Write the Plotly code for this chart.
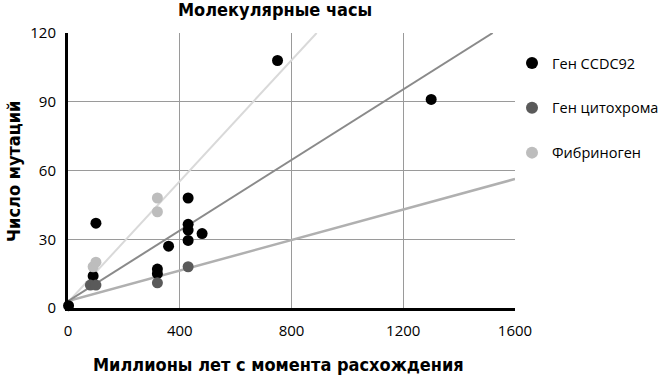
import plotly.graph_objects as go

# --- data ---
ccdc_x = [2, 90, 100, 320, 320, 360, 430, 430, 430, 430, 480, 750, 1300]
ccdc_y = [1, 14, 37, 17, 15, 27, 48, 36.5, 34, 29.5, 32.5, 108, 91]

cyto_x = [80, 100, 320, 430]
cyto_y = [10, 10, 11, 18]

fib_x = [-3, 90, 100, 320, 320]
fib_y = [-0.5, 18, 20, 48, 42]

fit_ccdc_x = [0, 1520]
fit_ccdc_y = [3, 120]
fit_cyto_x = [0, 1600]
fit_cyto_y = [3, 56.3]
fit_fib_x = [0, 890]
fit_fib_y = [2.5, 120]

x_ticks = [0, 400, 800, 1200, 1600]
y_ticks = [0, 30, 60, 90, 120]

names = ["Ген CCDC92", "Ген цитохрома", "Фибриноген"]
title = "Молекулярные часы"
x_title = "Миллионы лет с момента расхождения"
y_title = "Число мутаций"

FONT = "Open Sans"
BOLD = "DejaVu Sans Condensed"

W, H = 664, 378
L, R, T, B = 68, 149, 33, 70
pw, ph = W - L - R, H - T - B


def px(x):
    return (x - L) / pw


def py(y):
    return 1 - (y - T) / ph


fig = go.Figure()

# trend lines
fig.add_trace(go.Scatter(x=fit_fib_x, y=fit_fib_y, mode="lines",
                         line=dict(color="#d9d9d9", width=2), showlegend=False, hoverinfo="skip"))
fig.add_trace(go.Scatter(x=fit_cyto_x, y=fit_cyto_y, mode="lines",
                         line=dict(color="#b0b0b0", width=2.5), showlegend=False, hoverinfo="skip"))
fig.add_trace(go.Scatter(x=fit_ccdc_x, y=fit_ccdc_y, mode="lines",
                         line=dict(color="#8a8a8a", width=2), showlegend=False, hoverinfo="skip"))

# points
fig.add_trace(go.Scatter(x=ccdc_x, y=ccdc_y, mode="markers", name=names[0], legendgroup="a",
                         marker=dict(color="#000000", size=11), cliponaxis=False))
fig.add_trace(go.Scatter(x=cyto_x, y=cyto_y, mode="markers", name=names[1], legendgroup="b",
                         marker=dict(color="#5a5a5a", size=11), cliponaxis=False))
fig.add_trace(go.Scatter(x=fib_x, y=fib_y, mode="markers", name=names[2], legendgroup="c",
                         marker=dict(color="#bdbdbd", size=11), cliponaxis=False))

fig.update_layout(
    width=W, height=H,
    margin=dict(l=L, r=R, t=T, b=B, autoexpand=False),
    paper_bgcolor="white", plot_bgcolor="white",
    font=dict(family=FONT, size=15, color="#000"),
    showlegend=True,
    legend=dict(x=px(512), y=py(47), xanchor="left", yanchor="top",
                font=dict(family=FONT, size=14.5, color="#000"),
                tracegroupgap=23, itemsizing="constant", bgcolor="rgba(0,0,0,0)"),
    annotations=[
        dict(text="<b>" + title + "</b>", x=px(275), y=py(10), xref="paper", yref="paper",
             xanchor="center", yanchor="middle", showarrow=False,
             font=dict(family=BOLD, size=18)),
        dict(text="<b>" + x_title + "</b>", x=px(278), y=py(364), xref="paper", yref="paper",
             xanchor="center", yanchor="middle", showarrow=False,
             font=dict(family=BOLD, size=18)),
        dict(text="<b>" + y_title + "</b>", x=px(13), y=py(172), xref="paper", yref="paper",
             xanchor="center", yanchor="middle", showarrow=False, textangle=-90,
             font=dict(family=BOLD, size=18)),
    ],
)

fig.update_xaxes(range=[0, 1600], tickvals=x_ticks, ticktext=[str(v) for v in x_ticks],
                 showgrid=True, gridcolor="#9a9a9a", gridwidth=1, automargin=False,
                 showline=True, linecolor="#000", linewidth=3, zeroline=False,
                 ticks="", ticklabelstandoff=7)
fig.update_yaxes(range=[0, 120], tickvals=y_ticks, ticktext=[str(v) for v in y_ticks],
                 showgrid=True, gridcolor="#9a9a9a", gridwidth=1, automargin=False,
                 showline=True, linecolor="#000", linewidth=3, zeroline=False,
                 ticks="", ticklabelstandoff=6)

fig.write_html("out.html", config={"displayModeBar": False},
               post_script="document.body.style.margin='0';document.body.style.overflow='hidden';")
